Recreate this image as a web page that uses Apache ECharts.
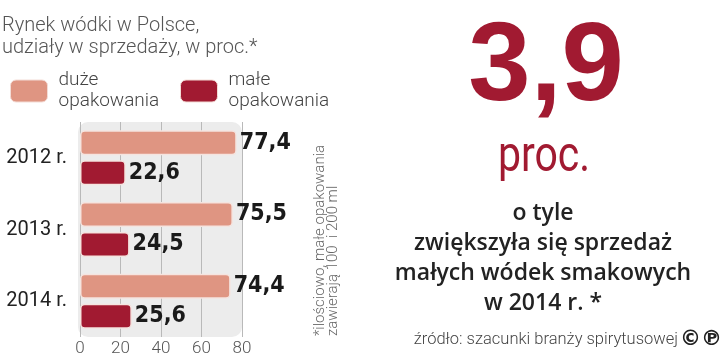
<!DOCTYPE html>
<html><head><meta charset="utf-8">
<script src="https://cdn.jsdelivr.net/npm/echarts@6/dist/echarts.min.js"></script>
<style>html,body{margin:0;padding:0;background:#fff}#c{width:720px;height:358px}</style>
</head><body><div id="c"></div>
<script>
const categories = ['2012 r.', '2013 r.', '2014 r.'];
const bigPacks = [77.4, 75.5, 74.4];
const smallPacks = [22.6, 24.5, 25.6];
const seriesNames = ['duże\nopakowania', 'małe\nopakowania'];
const xTicks = [0, 20, 40, 60, 80];

const RED = '#A11A31', SALMON = '#DF9582';
const COND = "'DejaVu Sans Condensed', 'DejaVu Sans', sans-serif";
const fmt = p => String(p.value).replace('.', ',');
const chart = echarts.init(document.getElementById('c'), null, {renderer: 'canvas'});
const legendCommon = {
  orient: 'horizontal', top: 54, icon: 'roundRect', itemWidth: 37, itemHeight: 22, itemGap: 0,
  selectedMode: false,
  textStyle: {fontFamily: 'Roboto', fontWeight: 300, fontSize: 19, lineHeight: 21, color: '#444', padding: [22, 0, 0, 6]},
  itemStyle: {borderColor: '#f3dcd6', borderWidth: 1}
};
const labelStyle = {show: true, position: 'right', distance: 3, formatter: fmt, fontFamily: COND, fontWeight: 'bold', fontSize: 23, color: '#1a1a1a'};
chart.setOption({
  animation: false,
  title: {
    text: 'Rynek wódki w Polsce,\nudziały w sprzedaży, w proc.*', left: -3, top: 10,
    textStyle: {fontFamily: 'Roboto', fontWeight: 300, fontSize: 20, lineHeight: 22, color: '#555'}
  },
  legend: [
    Object.assign({}, legendCommon, {left: 5, data: [seriesNames[0]]}),
    Object.assign({}, legendCommon, {left: 175, data: [seriesNames[1]]})
  ],
  grid: {left: 80, top: 122, width: 162, height: 215, containLabel: false},
  xAxis: {
    type: 'value', min: xTicks[0], max: xTicks[xTicks.length - 1], interval: 20,
    axisLine: {show: false}, axisTick: {show: false},
    splitLine: {show: true, lineStyle: {color: '#b9b9b9', width: 1}},
    axisLabel: {margin: 3, fontFamily: 'Roboto', fontWeight: 300, fontSize: 17, color: '#555',
      formatter: v => xTicks.includes(v) ? String(v) : ''}
  },
  yAxis: {
    type: 'category', data: categories, inverse: true,
    axisLine: {show: false}, axisTick: {show: false},
    axisLabel: {margin: 13, fontFamily: 'Roboto', fontSize: 20, color: '#222'}
  },
  graphic: [
    {type: 'rect', z: -10, shape: {x: 78, y: 122, width: 164, height: 215, r: 10}, style: {fill: '#ececec'}},
    {type: 'text', x: 546, y: 69, style: {text: '3,9', fontFamily: 'Liberation Sans', fontWeight: 'bold', fontSize: 112, fill: RED, align: 'center', verticalAlign: 'middle'}},
    {type: 'text', x: 544, y: 158, scaleX: 0.82, style: {text: 'proc.', fontFamily: 'Roboto', fontSize: 50, fill: RED, align: 'center', verticalAlign: 'middle'}},
    {type: 'text', x: 543, y: 258, style: {text: 'o tyle\nzwiększyła się sprzedaż\nmałych wódek smakowych\nw 2014 r. *', fontFamily: 'Open Sans', fontWeight: 600, fontSize: 23, lineHeight: 30, fill: '#222', align: 'center', verticalAlign: 'middle'}},
    {type: 'text', x: 678, y: 340, style: {text: 'źródło: szacunki branży spirytusowej', fontFamily: 'Roboto', fontWeight: 300, fontSize: 16.5, fill: '#444', align: 'right', verticalAlign: 'middle'}},
    {type: 'text', x: 701, y: 340, style: {text: '©℗', fontFamily: 'DejaVu Sans', fontWeight: 'bold', fontSize: 21, fill: '#222', align: 'center', verticalAlign: 'middle'}},
    {type: 'text', x: 327, y: 336, rotation: Math.PI / 2, style: {text: '*ilościowo, małe opakowania\nzawierają 100  i 200 ml', fontFamily: 'Roboto', fontWeight: 300, fontSize: 15, lineHeight: 13, fill: '#666', align: 'left', verticalAlign: 'middle'}}
  ],
  series: [
    {name: seriesNames[0], type: 'bar', data: bigPacks, barWidth: 25, barGap: '20%',
      itemStyle: {color: SALMON, borderColor: '#f5e4df', borderWidth: 1.5, borderRadius: 4},
      label: labelStyle},
    {name: seriesNames[1], type: 'bar', data: smallPacks, barWidth: 25,
      itemStyle: {color: RED, borderColor: '#f5e4df', borderWidth: 1.5, borderRadius: 4},
      label: labelStyle}
  ]
});
</script></body></html>
